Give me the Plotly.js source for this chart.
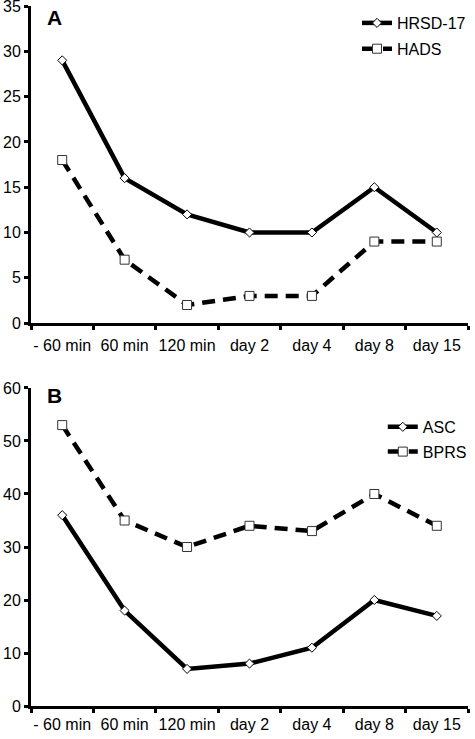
<!DOCTYPE html>
<html>
<head>
<meta charset="utf-8">
<script src="https://cdn.plot.ly/plotly-3.0.1.min.js"></script>
<style>html,body{margin:0;padding:0;background:#fff;}#chart{width:475px;height:739px;}</style>
</head>
<body>
<div id="chart"></div>
<script>
const categories = ["- 60 min", "60 min", "120 min", "day 2", "day 4", "day 8", "day 15"];
const hrsd17 = [29, 16, 12, 10, 10, 15, 10];
const hads = [18, 7, 2, 3, 3, 9, 9];
const asc = [36, 18, 7, 8, 11, 20, 17];
const bprs = [53, 35, 30, 34, 33, 40, 34];
const yTicksA = [0, 5, 10, 15, 20, 25, 30, 35];
const yTicksB = [0, 10, 20, 30, 40, 50, 60];

const FONT = "Liberation Sans, Arial, sans-serif";
const solidLine = {color: "#000", width: 4.5};
const dashLine = {color: "#000", width: 4.5, dash: "13px,8px"};
const diamond = {symbol: "diamond", size: 7, color: "#fff", line: {color: "#000", width: 1}};
const square = {symbol: "square", size: 9, color: "#fff", line: {color: "#333", width: 1}};

const traces = [
  {x: categories, y: hrsd17, name: "HRSD-17", type: "scatter", mode: "lines+markers", line: solidLine, marker: diamond, xaxis: "x", yaxis: "y", legend: "legend", legendgroup: "a1"},
  {x: categories, y: hads, name: "HADS", type: "scatter", mode: "lines+markers", line: dashLine, marker: square, xaxis: "x", yaxis: "y", legend: "legend", legendgroup: "a2"},
  {x: categories, y: asc, name: "ASC", type: "scatter", mode: "lines+markers", line: solidLine, marker: diamond, xaxis: "x2", yaxis: "y2", legend: "legend2", legendgroup: "b1"},
  {x: categories, y: bprs, name: "BPRS", type: "scatter", mode: "lines+markers", line: dashLine, marker: square, xaxis: "x2", yaxis: "y2", legend: "legend2", legendgroup: "b2"}
];

const xBase = {
  type: "category", range: [-0.5, 6.5], showline: true, linecolor: "#000", linewidth: 3,
  ticks: "outside", tickson: "boundaries", ticklen: 4, tickwidth: 3, tickcolor: "#000", tickangle: 0,
  showgrid: false, zeroline: false, tickfont: {family: FONT, size: 16, color: "#000"}, fixedrange: true,
  ticklabeloverflow: "allow"
};
const yBase = {
  showline: true, linecolor: "#000", linewidth: 3, ticks: "outside", ticklen: 4, tickwidth: 3, tickcolor: "#000",
  showgrid: false, zeroline: false, tickfont: {family: FONT, size: 16, color: "#000"}, ticklabelstandoff: 0, fixedrange: true,
  ticklabeloverflow: "allow"
};

const layout = {
  width: 475, height: 739,
  margin: {l: 31, r: 3, t: 6, b: 33},
  paper_bgcolor: "#fff", plot_bgcolor: "#fff",
  showlegend: true,
  xaxis: Object.assign({}, xBase, {domain: [0, 1], anchor: "y", ticklabelstandoff: 6}),
  yaxis: Object.assign({}, yBase, {domain: [0.547, 1], anchor: "x", range: [0, 35], tickvals: yTicksA}),
  xaxis2: Object.assign({}, xBase, {domain: [0, 1], anchor: "y2", ticklabelstandoff: 2}),
  yaxis2: Object.assign({}, yBase, {domain: [0, 0.4543], anchor: "x2", range: [0, 60], tickvals: yTicksB}),
  legend: {x: 0.746, y: 1.0, xanchor: "left", yanchor: "top", bgcolor: "rgba(0,0,0,0)", borderwidth: 0,
           font: {family: FONT, size: 16, color: "#000"}, tracegroupgap: 2, itemwidth: 30},
  legend2: {x: 0.805, y: 0.423, xanchor: "left", yanchor: "top", bgcolor: "rgba(0,0,0,0)", borderwidth: 0,
           font: {family: FONT, size: 16, color: "#000"}, tracegroupgap: 1, itemwidth: 30},
  annotations: [
    {text: "<b>A</b>", xref: "paper", yref: "paper", x: 0.0317, y: 0.983, xanchor: "left", yanchor: "middle", showarrow: false, font: {family: FONT, size: 21, color: "#000"}},
    {text: "<b>B</b>", xref: "paper", yref: "paper", x: 0.0317, y: 0.444, xanchor: "left", yanchor: "middle", showarrow: false, font: {family: FONT, size: 21, color: "#000"}}
  ]
};

Plotly.newPlot("chart", traces, layout, {staticPlot: true, displayModeBar: false});
</script>
</body>
</html>
